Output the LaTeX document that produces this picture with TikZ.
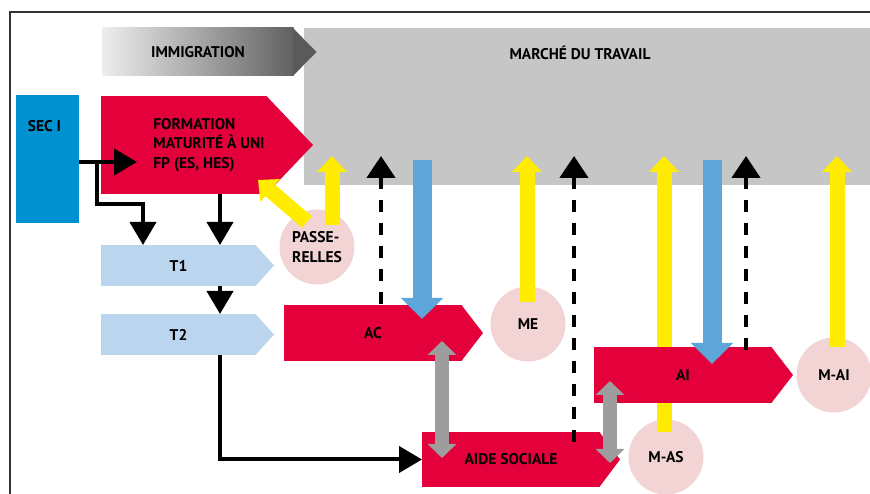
\documentclass[tikz,border=0pt]{standalone}
\usepackage{fontspec}
\setmainfont{PT Sans}
\usepackage{tikz}
\usetikzlibrary{arrows.meta,positioning,calc}

\definecolor{redbox}{HTML}{E4003A}
\definecolor{mktgray}{HTML}{C5C6C5}
\definecolor{secblue}{HTML}{0091D0}
\definecolor{tblue}{HTML}{BBD5EF}
\definecolor{pinkc}{HTML}{F2D4D5}
\definecolor{yellowc}{HTML}{FFEC00}
\definecolor{bluec}{HTML}{5EA6DA}
\definecolor{grayc}{HTML}{9D9D9D}
\definecolor{immtip}{HTML}{5A5A5A}

\begin{document}
\begin{tikzpicture}[x=1pt, y=1pt, font=\bfseries\fontsize{15.5}{19.5}\selectfont]
\tikzset{
  base/.style={inner sep=0pt, outer sep=0pt, align=center},
  redbox/.style={base, fill=redbox, minimum width=178pt, minimum height=56pt},
  tbox/.style={base, fill=tblue, minimum width=155pt, minimum height=41pt},
  circ/.style={base, circle, fill=pinkc, minimum size=75pt},
  blk/.style={line width=4pt, line join=miter, -{Triangle[length=23pt, width=26pt]}},
  dsh/.style={line width=4.5pt, dash pattern=on 12pt off 11pt, {Triangle[length=22pt, width=28pt]}-},
  yarr/.style={draw=yellowc, line width=15pt, -{Triangle[length=16pt, width=29pt]}},
  barr/.style={draw=bluec, line width=19pt, -{Triangle[length=21pt, width=41pt]}},
  garr/.style={draw=grayc, line width=14pt, {Triangle[length=14pt, width=28pt]}-{Triangle[length=14pt, width=28pt]}},
}
\useasboundingbox (0,0) rectangle (870,494);

% Frame
\draw[line width=1.2pt, draw=black!80] (10,0) -- (10,482) -- (870,482);

% Labour market and immigration
\node (mkt) [base, fill=mktgray, minimum width=566pt, minimum height=157pt,
  label={[xshift=-7pt, yshift=53.5pt]center:MARCHÉ DU TRAVAIL}] at (587,387.5) {};
\node (imm) [base, left color=black!7, right color=black!62, minimum width=191pt, minimum height=48pt] at (198,442) {IMMIGRATION};

% School and training
\node (sec) [base, fill=secblue, minimum width=63pt, minimum height=128pt,
  label={[yshift=33pt, xshift=-3pt]center:SEC I}] at (47.5,335) {};
\node (form) [base, fill=redbox, minimum width=166pt, minimum height=98pt,
  label={[xshift=25pt, align=left]center:FORMATION\\MATURITÉ À UNI\\FP (ES, HES)}] at (184,349) {};
\node (t1) [tbox] at (178.5,228.5) {T1};
\node (t2) [tbox] at (178.5,159.5) {T2};

% Benefits
\node (ac) [redbox] at (373,161) {AC};
\node (aide) [redbox, minimum height=55pt] at (511,34.5) {AIDE SOCIALE};

% Measures
\node (pas) [circ, align=left] at (317,247) {PASSE-\\RELLES};
\node (me) [circ] at (528,170) {ME};
\node (mas) [circ] at (666,37) {M-AS};
\node (mai) [circ] at (834,119) {M-AI};

\draw[yarr] ($(mas.center)+(-2,25)$) -- ($(mas.center |- mkt.south)+(-2,29)$);
\node (ai) [redbox] at (683,119) {AI};

% Pointed ends
\foreach \n/\l/\c in {imm/23/immtip, form/46/redbox, t1/18/tblue, t2/18/tblue, ac/21/redbox, aide/20/redbox, ai/21/redbox}
  \fill[\c] ($(\n.north east)+(-0.6,0)$) -- ($(\n.east)+(\l,0)$) -- ($(\n.south east)+(-0.6,0)$) -- cycle;

% Black flows
\draw[blk] ([yshift=-3pt]sec.east) -- ($(sec.east)+(58,-3)$);
\draw[blk] ($(sec.east)+(18,-3)$) |- ($(t1.north west)+(42,41)$) -- ($(t1.north west)+(42,0)$);
\draw[blk] ($(form.south)+(36,0)$) -- ($(t1.north)+(41.5,0)$);
\draw[blk] ($(t1.south)+(41.5,0)$) -- ($(t2.north)+(41.5,0)$);
\draw[blk] ($(t2.south)+(41.5,0)$) |- (aide.west);

% Yellow flows
\draw[yarr] ($(pas.center)+(-10,25)$) -- ($(pas.center)+(-59,67)$);
\draw[yarr] ($(pas.center)+(15,22)$) -- ($(pas.center |- mkt.south)+(15,29)$);
\draw[yarr] ($(me.center)+(-1,22)$) -- ($(me.center |- mkt.south)+(-1,29)$);
\draw[yarr] ($(mai.center)+(3,28)$) -- ($(mai.center |- mkt.south)+(3,29)$);

% Blue flows
\draw[barr] ($(ac.north |- mkt.south)+(49,25)$) -- ($(ac.north)+(49,-14)$);
\draw[barr] ($(ai.north |- mkt.south)+(29,25)$) -- ($(ai.north)+(29,-17)$);

% Dashed flows (drawn from the head down)
\draw[dsh] ($(ac.north |- mkt.south)+(8,29)$) -- ($(ac.north)+(8,0)$);
\draw[dsh] ($(aide.north |- mkt.south)+(63,29)$) -- ($(aide.north)+(63,-20)$);
\draw[dsh] ($(ai.north |- mkt.south)+(63,29)$) -- ($(ai.north)+(63,-12)$);

% Gray exchanges
\draw[garr] ($(ac.south)+(69,20)$) -- ($(aide.north -| ac.south)+(69,-26)$);
\draw[garr] ($(ai.south)+(-73,22)$) -- ($(aide.north -| ai.south)+(-73,-31)$);

\end{tikzpicture}
\end{document}
